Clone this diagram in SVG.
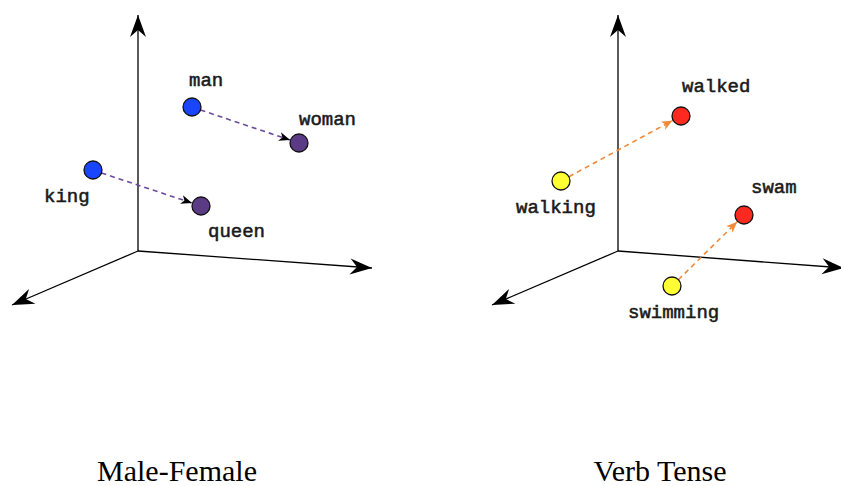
<svg xmlns="http://www.w3.org/2000/svg" width="841" height="486" viewBox="0 0 841 486">
<style>
.axis{stroke:#000;stroke-width:1.3;fill:none;marker-end:url(#ax)}
.lbl{font-family:"Liberation Mono","Courier New",monospace;font-size:19px;fill:#1a1a1a;stroke:#1a1a1a;stroke-width:0.55}
.title{font-family:"Liberation Serif","Times New Roman",serif;font-size:30px;fill:#000;text-anchor:middle}
.node{stroke:#111;stroke-width:1.3}
.mf{stroke:#6a4a9c;stroke-width:1.6;stroke-dasharray:5 4;fill:none;marker-end:url(#hp)}
.vt{stroke:#ee8a3a;stroke-width:1.6;stroke-dasharray:5 4;fill:none;marker-end:url(#ho)}
</style>
<defs>
<marker id="ax" markerUnits="userSpaceOnUse" markerWidth="24" markerHeight="18" viewBox="-22 -9 24 18" refX="0" refY="0" orient="auto" overflow="visible">
<path d="M0,0 L-22,-8 L-15,0 L-22,8 Z" fill="#000"/>
</marker>
<marker id="hp" markerUnits="userSpaceOnUse" markerWidth="12" markerHeight="10" viewBox="-11 -5 12 10" refX="0" refY="0" orient="auto" overflow="visible">
<path d="M0,0 L-11,-4.5 L-8,0 L-11,4.5 Z" fill="#000"/>
</marker>
<marker id="ho" markerUnits="userSpaceOnUse" markerWidth="12" markerHeight="10" viewBox="-11 -5 12 10" refX="0" refY="0" orient="auto" overflow="visible">
<path d="M0,0 L-11,-4.5 L-8,0 L-11,4.5 Z" fill="#ee8a3a"/>
</marker>
</defs>
<rect width="841" height="486" fill="#fff"/>
<g id="axes-left">
<line class="axis" x1="138" y1="251" x2="138" y2="15"/>
<line class="axis" x1="138" y1="251" x2="372" y2="268"/>
<line class="axis" x1="138" y1="251" x2="12" y2="305"/>
</g>
<g id="axes-right">
<line class="axis" x1="618" y1="251" x2="618" y2="15"/>
<line class="axis" x1="618" y1="251" x2="844" y2="268"/>
<line class="axis" x1="618" y1="251" x2="492" y2="305"/>
</g>
<g id="connectors">
<line class="mf" x1="200.5" y1="110" x2="290" y2="140"/>
<line class="mf" x1="101.5" y1="173" x2="192" y2="203"/>
<line class="vt" x1="569" y1="176.7" x2="672.6" y2="120.5"/>
<line class="vt" x1="678.4" y1="279.7" x2="737.2" y2="221.7"/>
</g>
<g id="man"><circle class="node" cx="192" cy="107" r="9" fill="#1a45ff"/><text class="lbl" x="189" y="86">man</text></g>
<g id="woman"><circle class="node" cx="299" cy="143" r="9" fill="#5b3b86"/><text class="lbl" x="299" y="125">woman</text></g>
<g id="king"><circle class="node" cx="93" cy="170" r="9" fill="#1a45ff"/><text class="lbl" x="44" y="202">king</text></g>
<g id="queen"><circle class="node" cx="201" cy="206" r="9" fill="#5b3b86"/><text class="lbl" x="208" y="237">queen</text></g>
<g id="walked"><circle class="node" cx="681" cy="116" r="9" fill="#ff2a1f"/><text class="lbl" x="682" y="92">walked</text></g>
<g id="walking"><circle class="node" cx="561" cy="181" r="9" fill="#ffff33"/><text class="lbl" x="516" y="213">walking</text></g>
<g id="swam"><circle class="node" cx="744" cy="215" r="9" fill="#ff2a1f"/><text class="lbl" x="751" y="193">swam</text></g>
<g id="swimming"><circle class="node" cx="672" cy="286" r="9" fill="#ffff33"/><text class="lbl" x="628" y="318">swimming</text></g>
<text class="title" x="177" y="481">Male-Female</text>
<text class="title" x="660" y="481">Verb Tense</text>
</svg>
